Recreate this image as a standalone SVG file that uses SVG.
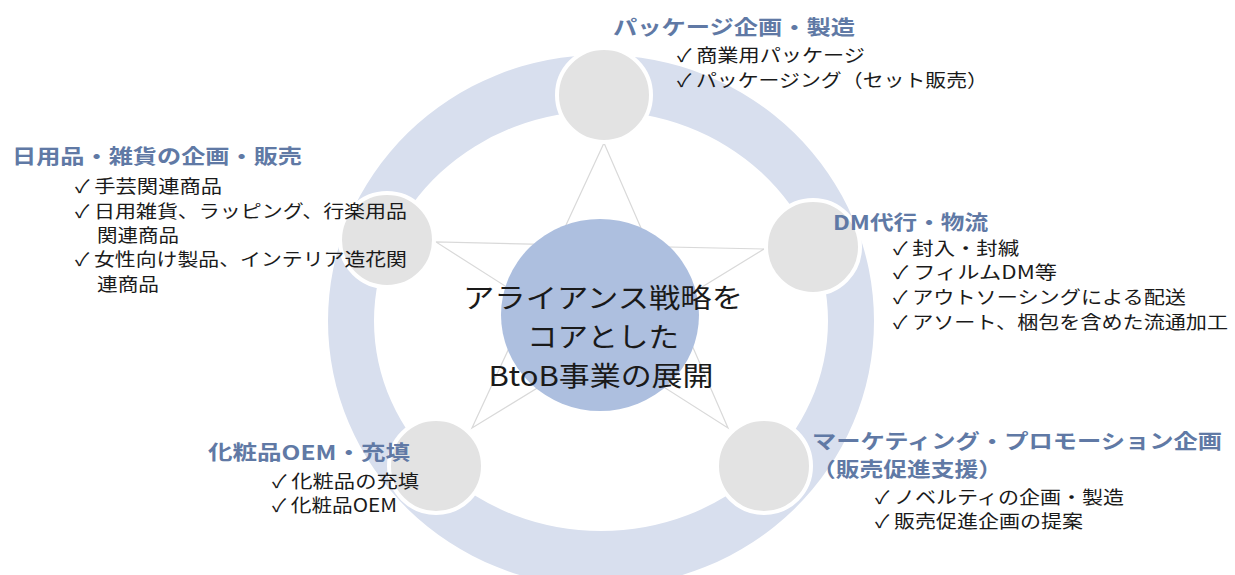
<svg xmlns="http://www.w3.org/2000/svg" width="1235" height="575" viewBox="0 0 1235 575">
<style>
  text { font-family: "Noto Sans CJK JP", "DejaVu Sans", sans-serif; }
  .ttl { font-size: 20px; font-weight: bold; fill: #6079a5; }
  .bd { font-size: 18px; fill: #1a1a1a; }
  .ctr { font-size: 27px; fill: #1a1a1a; }
  .sat { fill: #e3e3e3; stroke: #ffffff; stroke-width: 4; }
  .star { stroke: #d9d9d9; stroke-width: 1.2; fill: none; }
</style>
<rect width="1235" height="575" fill="#ffffff"/>
<g id="ring">
  <path fill="#d8dfee" fill-rule="evenodd" d="M328,321 a273,266 0 1,0 546,0 a273,266 0 1,0 -546,0 Z M374,321 a227,210 0 1,0 454,0 a227,210 0 1,0 -454,0 Z"/>
</g>
<g id="connectors">
  <polygon class="star" points="604,143 728,428 436,242 764,249 472,428"/>
</g>
<g id="node-center">
  <ellipse cx="600" cy="315" rx="99" ry="96" fill="#adbfdf"/>
  <text class="ctr" x="603" y="308" text-anchor="middle" textLength="280" lengthAdjust="spacingAndGlyphs">アライアンス戦略を</text>
  <text class="ctr" x="603" y="347" text-anchor="middle" textLength="152" lengthAdjust="spacingAndGlyphs">コアとした</text>
  <text class="ctr" x="601" y="386" text-anchor="middle" textLength="225" lengthAdjust="spacingAndGlyphs">BtoB事業の展開</text>
</g>
<g id="node-package">
  <circle class="sat" cx="604" cy="95" r="47"/>
  <text class="ttl" x="613" y="35" textLength="242" lengthAdjust="spacingAndGlyphs">パッケージ企画・製造</text>
  <text class="bd" x="677" y="62" textLength="188" lengthAdjust="spacingAndGlyphs">✓ 商業用パッケージ</text>
  <text class="bd" x="677" y="87" textLength="311" lengthAdjust="spacingAndGlyphs">✓ パッケージング（セット販売）</text>
</g>
<g id="node-daily">
  <circle class="sat" cx="387" cy="240" r="47"/>
  <text class="ttl" x="12" y="164" textLength="290" lengthAdjust="spacingAndGlyphs">日用品・雑貨の企画・販売</text>
  <text class="bd" x="75" y="193" textLength="147" lengthAdjust="spacingAndGlyphs">✓ 手芸関連商品</text>
  <text class="bd" x="75" y="218" textLength="332" lengthAdjust="spacingAndGlyphs">✓ 日用雑貨、ラッピング、行楽用品</text>
  <text class="bd" x="97" y="242" textLength="82" lengthAdjust="spacingAndGlyphs">関連商品</text>
  <text class="bd" x="75" y="266" textLength="332" lengthAdjust="spacingAndGlyphs">✓ 女性向け製品、インテリア造花関</text>
  <text class="bd" x="97" y="291" textLength="62" lengthAdjust="spacingAndGlyphs">連商品</text>
</g>
<g id="node-dm">
  <circle class="sat" cx="813" cy="247" r="47"/>
  <text class="ttl" x="833" y="230" textLength="155" lengthAdjust="spacingAndGlyphs">DM代行・物流</text>
  <text class="bd" x="893" y="255" textLength="126" lengthAdjust="spacingAndGlyphs">✓ 封入・封緘</text>
  <text class="bd" x="893" y="279" textLength="164" lengthAdjust="spacingAndGlyphs">✓ フィルムDM等</text>
  <text class="bd" x="893" y="304" textLength="293" lengthAdjust="spacingAndGlyphs">✓ アウトソーシングによる配送</text>
  <text class="bd" x="893" y="329" textLength="335" lengthAdjust="spacingAndGlyphs">✓ アソート、梱包を含めた流通加工</text>
</g>
<g id="node-cosme">
  <circle class="sat" cx="436" cy="466" r="47"/>
  <text class="ttl" x="208" y="460" textLength="202" lengthAdjust="spacingAndGlyphs">化粧品OEM・充填</text>
  <text class="bd" x="272" y="488" textLength="147" lengthAdjust="spacingAndGlyphs">✓ 化粧品の充填</text>
  <text class="bd" x="272" y="512" textLength="125" lengthAdjust="spacingAndGlyphs">✓ 化粧品OEM</text>
</g>
<g id="node-marketing">
  <circle class="sat" cx="764" cy="466" r="47"/>
  <text class="ttl" x="812" y="449" textLength="410" lengthAdjust="spacingAndGlyphs">マーケティング・プロモーション企画</text>
  <text class="ttl" x="812" y="477" textLength="190" lengthAdjust="spacingAndGlyphs">（販売促進支援）</text>
  <text class="bd" x="875" y="504" textLength="249" lengthAdjust="spacingAndGlyphs">✓ ノベルティの企画・製造</text>
  <text class="bd" x="875" y="528" textLength="208" lengthAdjust="spacingAndGlyphs">✓ 販売促進企画の提案</text>
</g>
</svg>
